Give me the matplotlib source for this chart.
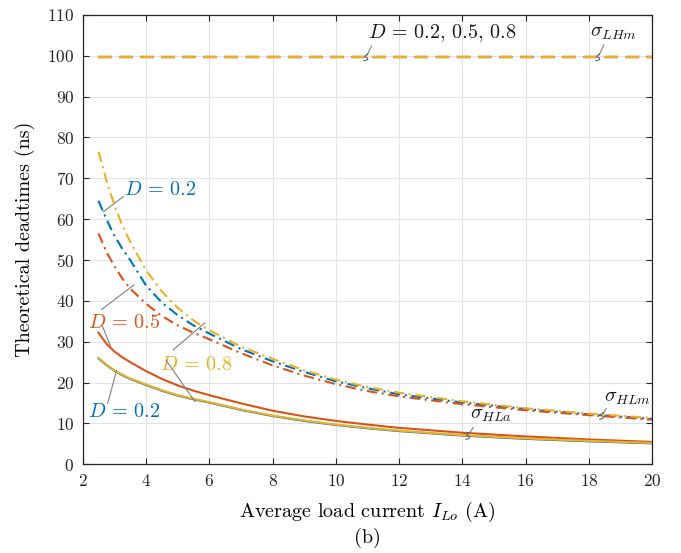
import numpy as np
import matplotlib
matplotlib.use("Agg")
import matplotlib.pyplot as plt
import matplotlib.transforms as mtransforms

plt.rcParams['font.family'] = 'serif'
plt.rcParams['font.serif'] = ['cmr10']
plt.rcParams['mathtext.fontset'] = 'cm'
plt.rcParams['axes.formatter.use_mathtext'] = True
plt.rcParams['axes.unicode_minus'] = False

# load current (A)
I_Lo = [2.5, 2.75, 3, 3.25, 3.5, 4, 4.5, 5, 5.5, 6, 7, 8, 9, 10, 11, 12, 14, 16, 18, 20]

# sigma_LHm, same for every duty cycle (ns)
sigma_LHm = {0.2: 99.6, 0.5: 99.6, 0.8: 99.6}

# sigma_HLm (ns)
hlm_02 = [64.5, 60.0, 56.0, 52.8, 50.0, 43.8, 39.6, 36.5, 34.0, 32.0, 28.2, 25.2, 22.6, 20.3, 18.6, 17.1, 15.1, 13.5, 12.2, 11.1]
hlm_05 = [56.5, 52.0, 48.5, 45.5, 43.0, 39.3, 36.3, 34.0, 32.2, 30.6, 27.2, 24.2, 21.7, 19.6, 17.9, 16.6, 14.7, 13.2, 12.0, 10.9]
hlm_08 = [76.5, 69.5, 63.5, 58.5, 54.5, 47.5, 42.3, 38.3, 35.2, 32.8, 28.8, 25.8, 23.0, 20.7, 18.9, 17.5, 15.4, 13.7, 12.4, 11.3]

# sigma_HLa (ns)
hla_02 = [25.9, 24.3, 22.9, 21.8, 20.9, 19.4, 18.0, 16.8, 15.9, 15.1, 13.3, 11.8, 10.6, 9.6, 8.8, 8.1, 7.0, 6.2, 5.6, 5.1]
hla_05 = [32.2, 29.5, 27.6, 26.2, 25.0, 22.8, 20.9, 19.3, 18.0, 16.9, 14.9, 13.1, 11.7, 10.6, 9.7, 8.9, 7.7, 6.8, 6.05, 5.45]
hla_08 = [26.0, 24.4, 23.0, 21.9, 21.0, 19.5, 18.1, 16.9, 16.0, 15.2, 13.4, 11.9, 10.7, 9.7, 8.9, 8.2, 7.1, 6.3, 5.7, 5.2]

blue = '#0072BD'
red = '#D95319'
yellow = '#EDB120'

fig = plt.figure(figsize=(6.81, 5.53), dpi=100)
ax = fig.add_axes([0.1214, 0.1606, 0.8364, 0.8123])

# sigma_LHm dashed lines
for d, c in zip([0.2, 0.5, 0.8], [blue, red, yellow]):
    ax.plot([I_Lo[0], I_Lo[-1]], [sigma_LHm[d]] * 2, color=c, lw=1.6, dashes=(6, 3.5))

dd = (5, 2.2, 1, 2.2)
ax.plot(I_Lo, hlm_02, color=blue, lw=1.5, dashes=dd)
ax.plot(I_Lo, hlm_05, color=red, lw=1.5, dashes=dd)
ax.plot(I_Lo, hlm_08, color=yellow, lw=1.5, dashes=dd)

ax.plot(I_Lo, hla_02, color=blue, lw=1.5)
ax.plot(I_Lo, hla_05, color=red, lw=1.5)
ax.plot(I_Lo, hla_08, color=yellow, lw=1.5)

ax.set_xlim(2, 20)
ax.set_ylim(0, 110)
ax.set_xticks(np.arange(2, 21, 2))
ax.set_yticks(np.arange(0, 111, 10))
ax.grid(True, color='#e3e3e3', lw=0.8)
ax.set_axisbelow(True)
ax.tick_params(direction='in', top=True, right=True, length=4.5, width=0.8,
               labelsize=12.5, colors='#262626', pad=6)
for s in ax.spines.values():
    s.set_linewidth(0.9)
    s.set_color('#262626')

ax.set_xlabel(r'Average load current $I_{Lo}$ (A)', fontsize=14.5, labelpad=8)
ax.set_ylabel('Theoretical deadtimes (ns)', fontsize=14.5, labelpad=9)
fig.text(0.5395, 0.028, '(b)', fontsize=14.5, ha='center', va='center')


def leader(x0, y0, x1, y1):
    ax.plot([x0, x1], [y0, y1], color='#808080', lw=0.8, zorder=5)


def curl(x, y):
    # small hook at the end of a leader line, drawn in points
    pts = np.array([[1.2, 2.6], [-0.8, 0.8], [0.0, 0.2], [1.4, -0.5],
                    [1.0, -1.6], [-0.6, -2.3], [-1.4, -2.2]])
    tr = (mtransforms.Affine2D().scale(1 / 72) + fig.dpi_scale_trans +
          mtransforms.ScaledTranslation(x, y, ax.transData))
    ax.plot(pts[:, 0], pts[:, 1], color='#606060', lw=0.8, transform=tr, zorder=6)


fs = 14.5
ax.text(11.01, 105.6, r'$D$ = 0.2, 0.5, 0.8', fontsize=fs, va='center', color='#1a1a1a')
leader(11.13, 102.4, 10.99, 100.2)
curl(10.95, 99.6)

ax.text(18.03, 105.6, r'$\sigma_{LHm}$', fontsize=fs, va='center', color='#1a1a1a')
leader(18.47, 102.6, 18.32, 100.2)
curl(18.28, 99.6)

ax.text(3.30, 67.1, r'$D$ = 0.2', fontsize=fs, va='center', color=blue)
leader(3.28, 65.5, 2.65, 61.8)

ax.text(2.17, 34.6, r'$D$ = 0.5', fontsize=fs, va='center', color=red)
leader(2.60, 37.9, 3.62, 43.9)
leader(2.63, 33.7, 2.88, 28.9)

ax.text(4.44, 24.3, r'$D$ = 0.8', fontsize=fs, va='center', color=yellow)
leader(4.86, 28.0, 5.86, 34.6)
leader(4.63, 25.5, 5.55, 15.3)

ax.text(2.17, 12.8, r'$D$ = 0.2', fontsize=fs, va='center', color=blue)
leader(2.79, 14.9, 3.07, 22.9)

ax.text(14.24, 12.0, r'$\sigma_{HLa}$', fontsize=fs, va='center', color='#1a1a1a')
leader(14.34, 9.0, 14.22, 7.5)
curl(14.17, 6.9)

ax.text(18.47, 16.2, r'$\sigma_{HLm}$', fontsize=fs, va='center', color='#1a1a1a')
leader(18.55, 13.6, 18.45, 12.4)
curl(18.40, 11.8)

fig.savefig('out.png', dpi=100)
